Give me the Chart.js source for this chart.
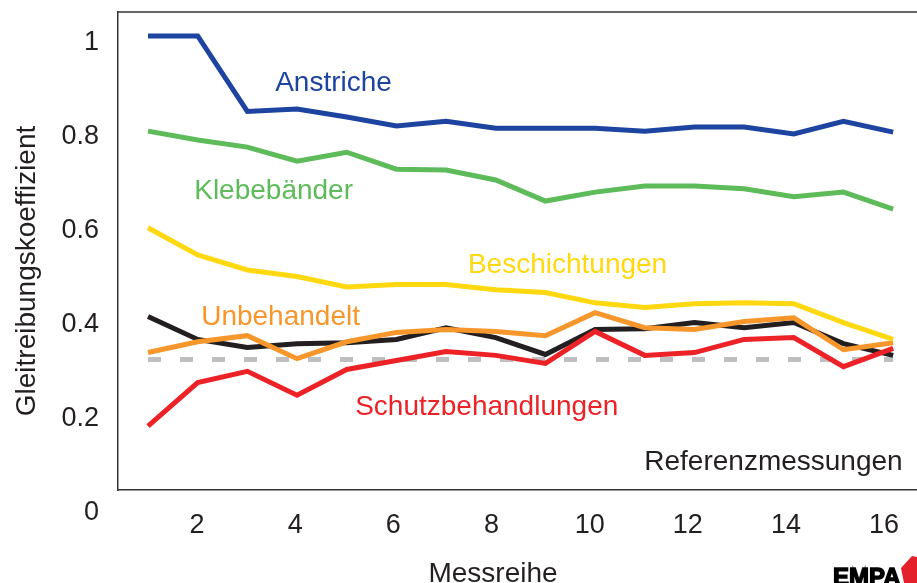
<!DOCTYPE html>
<html>
<head>
<meta charset="utf-8">
<script src="https://cdn.jsdelivr.net/npm/chart.js@4.4.1/dist/chart.umd.min.js"></script>
<style>
  html, body { margin: 0; padding: 0; background: #fff; }
  #wrap { width: 917px; height: 583px; }
</style>
</head>
<body>
<div id="wrap"><canvas id="chart"></canvas></div>
<script>
// Messreihe 1..16
const messreihe = [1, 2, 3, 4, 5, 6, 7, 8, 9, 10, 11, 12, 13, 14, 15, 16];
const xTicks = [2, 4, 6, 8, 10, 12, 14, 16];
const yTicks = [0, 0.2, 0.4, 0.6, 0.8, 1];

const anstriche = [1.015, 1.015, 0.854, 0.859, 0.842, 0.823, 0.833, 0.818, 0.818, 0.818, 0.812, 0.821, 0.821, 0.806, 0.833, 0.810];
const klebebaender = [0.812, 0.793, 0.778, 0.748, 0.767, 0.731, 0.729, 0.708, 0.663, 0.682, 0.695, 0.695, 0.689, 0.672, 0.682, 0.646];
const beschichtungen = [0.606, 0.548, 0.516, 0.502, 0.480, 0.485, 0.485, 0.474, 0.468, 0.446, 0.436, 0.444, 0.446, 0.444, 0.404, 0.368];
const unbehandelt = [0.340, 0.363, 0.376, 0.327, 0.363, 0.383, 0.389, 0.385, 0.376, 0.425, 0.393, 0.389, 0.406, 0.414, 0.346, 0.361];
const schutz = [0.183, 0.276, 0.300, 0.249, 0.304, 0.323, 0.342, 0.334, 0.317, 0.385, 0.334, 0.340, 0.368, 0.372, 0.310, 0.349];
const referenz = [0.417, 0.368, 0.351, 0.359, 0.361, 0.368, 0.393, 0.372, 0.336, 0.389, 0.391, 0.404, 0.393, 0.404, 0.359, 0.334];
const referenzMittel = 0.325;

const FONT = "'Liberation Sans', Arial, Helvetica, sans-serif";
const TEXT = '#231f20';
const FRAME = '#333333';

Chart.defaults.font.family = FONT;
Chart.defaults.font.size = 27;
Chart.defaults.color = TEXT;

const pts = (arr) => arr.map((v, i) => ({ x: messreihe[i], y: v }));

const line = (label, values, color, extra) => Object.assign({
    label,
    data: pts(values),
    borderColor: color,
    backgroundColor: color,
    borderWidth: 5,
    pointRadius: 0,
    tension: 0,
    borderCapStyle: 'butt',
    borderJoinStyle: 'miter',
    fill: false
}, extra || {});

// series names written into the plot, placed in data units
const seriesLabels = [
    { text: 'Anstriche', color: '#1c44a0', x: 3.56, y: 0.913 },
    { text: 'Klebebänder', color: '#5dbb5a', x: 1.93, y: 0.683 },
    { text: 'Beschichtungen', color: '#ffd80f', x: 7.44, y: 0.526 },
    { text: 'Unbehandelt', color: '#f7962b', x: 2.07, y: 0.416 },
    { text: 'Schutzbehandlungen', color: '#ec2227', x: 5.17, y: 0.224 },
    { text: 'Referenzmessungen', color: TEXT, x: 10.99, y: 0.107 }
];

const extras = {
    id: 'extras',
    afterDatasetsDraw(chart) {
        const { ctx, chartArea, scales: { x, y } } = chart;
        ctx.save();
        // top edge of the frame
        ctx.strokeStyle = FRAME;
        ctx.lineWidth = 1.5;
        ctx.beginPath();
        ctx.moveTo(chartArea.left, chartArea.top);
        ctx.lineTo(chartArea.right, chartArea.top);
        ctx.stroke();

        ctx.font = '28px ' + FONT;
        ctx.textBaseline = 'middle';
        ctx.textAlign = 'left';
        seriesLabels.forEach((l) => {
            ctx.fillStyle = l.color;
            ctx.fillText(l.text, x.getPixelForValue(l.x), y.getPixelForValue(l.y));
        });

        // axis titles
        ctx.fillStyle = TEXT;
        ctx.textAlign = 'center';
        ctx.textBaseline = 'alphabetic';
        ctx.fillText('Messreihe', 493, 582);
        ctx.save();
        ctx.translate(35, 271);
        ctx.rotate(-Math.PI / 2);
        ctx.fillText('Gleitreibungskoeffizient', 0, 0);
        ctx.restore();

        // EMPA mark
        ctx.font = 'bold 24px ' + FONT;
        ctx.textAlign = 'left';
        ctx.fillStyle = '#000';
        ctx.strokeStyle = '#000';
        ctx.lineWidth = 1.4;
        ctx.fillText('EMPA', 833, 585);
        ctx.strokeText('EMPA', 833, 585);
        ctx.fillStyle = '#e4202a';
        ctx.beginPath();
        ctx.moveTo(901, 568);
        ctx.lineTo(912, 556);
        ctx.lineTo(917, 557);
        ctx.lineTo(917, 583);
        ctx.lineTo(904, 583);
        ctx.closePath();
        ctx.fill();
        ctx.restore();
    }
};

new Chart(document.getElementById('chart'), {
    type: 'line',
    data: {
        datasets: [
            line('Anstriche', anstriche, '#1c44a0'),
            line('Klebebänder', klebebaender, '#5dbb5a'),
            line('Beschichtungen', beschichtungen, '#ffd80f'),
            line('Unbehandelt', unbehandelt, '#f7962b'),
            line('Schutzbehandlungen', schutz, '#ec2227'),
            line('Referenzmessungen', referenz, '#231f20'),
            line('Referenz (Mittel)', messreihe.map(() => referenzMittel), '#bfbfc1', { borderDash: [13, 19] })
        ]
    },
    options: {
        responsive: true,
        maintainAspectRatio: false,
        animation: false,
        layout: { padding: { top: 12, right: 0, left: 0, bottom: 0 } },
        plugins: {
            legend: { display: false },
            tooltip: { enabled: false }
        },
        scales: {
            // data axis: carries the frame's bottom edge only
            x: {
                type: 'linear',
                min: 0.396,
                max: 16.48,
                afterFit: (scale) => {
                    scale.height = 0;
                    scale.paddingLeft = 0;
                    scale.paddingRight = 0;
                },
                grid: { display: false, drawTicks: false },
                border: { display: true, color: FRAME, width: 1.5 },
                ticks: { display: false }
            },
            // label axis: the printed tick numbers sit on a slightly tighter spacing
            xLabels: {
                type: 'linear',
                position: 'bottom',
                min: 0.39,
                max: 16.67,
                afterBuildTicks: (scale) => { scale.ticks = xTicks.map((v) => ({ value: v })); },
                afterFit: (scale) => {
                    scale.height = 93;
                    scale.paddingLeft = 0;
                    scale.paddingRight = 0;
                },
                grid: { display: false, drawTicks: false },
                border: { display: false },
                ticks: { autoSkip: false, padding: 19, maxRotation: 0, color: TEXT }
            },
            y: {
                min: 0.047,
                max: 1.066,
                afterBuildTicks: (scale) => { scale.ticks = yTicks.map((v) => ({ value: v })); },
                afterFit: (scale) => {
                    scale.width = 118;
                    scale.paddingTop = 0;
                    scale.paddingBottom = 0;
                },
                grid: { display: false, drawTicks: false },
                border: { display: true, color: FRAME, width: 1.5 },
                ticks: { autoSkip: false, padding: 19, color: TEXT, callback: (v) => String(v) }
            }
        }
    },
    plugins: [extras]
});
</script>
</body>
</html>
